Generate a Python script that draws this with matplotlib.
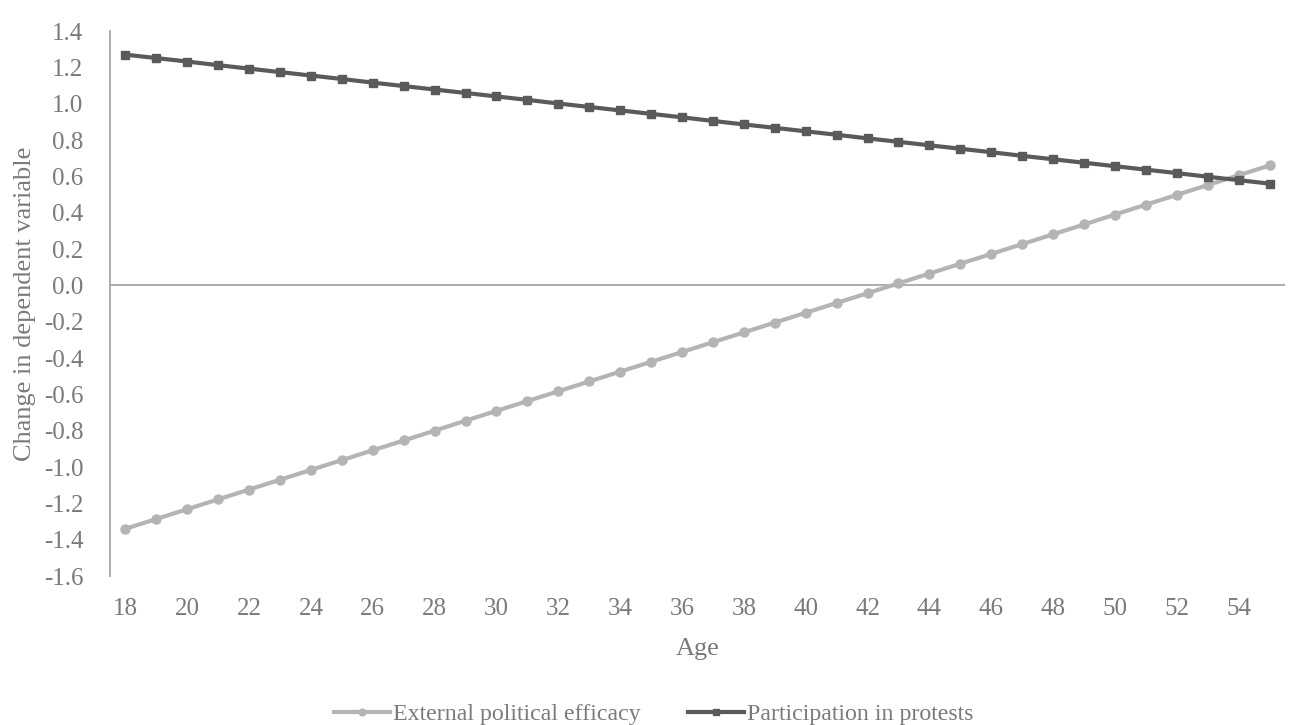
import matplotlib.pyplot as plt

# ages on the category axis
ages = list(range(18, 56))

# External political efficacy
efficacy = [-1.340, -1.286, -1.232, -1.178, -1.124, -1.070, -1.016, -0.962,
            -0.908, -0.854, -0.800, -0.745, -0.691, -0.637, -0.583, -0.529,
            -0.475, -0.421, -0.367, -0.313, -0.259, -0.205, -0.151, -0.097,
            -0.043, 0.011, 0.065, 0.119, 0.173, 0.227, 0.281, 0.335,
            0.390, 0.444, 0.498, 0.552, 0.606, 0.660]

# Participation in protests
protests = [1.270, 1.251, 1.232, 1.212, 1.193, 1.174, 1.155, 1.136,
            1.116, 1.097, 1.078, 1.059, 1.040, 1.021, 1.001, 0.982,
            0.963, 0.944, 0.925, 0.905, 0.886, 0.867, 0.848, 0.829,
            0.809, 0.790, 0.771, 0.752, 0.733, 0.713, 0.694, 0.675,
            0.656, 0.637, 0.618, 0.598, 0.579, 0.560]

yticks = [-1.6, -1.4, -1.2, -1.0, -0.8, -0.6, -0.4, -0.2, 0.0,
          0.2, 0.4, 0.6, 0.8, 1.0, 1.2, 1.4]

plt.rcParams['font.family'] = ['Liberation Serif', 'DejaVu Serif']
txt = '#7a7a7a'
axc = '#a6a6a6'

fig = plt.figure(figsize=(12.92, 7.25), dpi=100)
ax = fig.add_axes([0.0851, 0.2055, 0.9095, 0.7517])

ax.plot(ages, efficacy, '-o', color='#b4b4b4', lw=3, ms=6.5,
        label='External political efficacy', zorder=3)
ax.plot(ages, protests, '-s', color='#5a5a5a', lw=3, ms=6,
        label='Participation in protests', zorder=3)

ax.axhline(0, color=axc, lw=1.3, zorder=1)

ax.set_xlim(17.5, 55.5)
ax.set_ylim(-1.6, 1.4)
ax.set_yticks(yticks)
ax.set_yticklabels([f'{v:.1f}' for v in yticks])
ax.set_xticks(ages[::2])

for s in ['top', 'right', 'bottom']:
    ax.spines[s].set_visible(False)
ax.spines['left'].set_color(axc)
ax.spines['left'].set_linewidth(1.3)
ax.tick_params(length=0, labelsize=18, colors=txt)
ax.tick_params(axis='x', pad=16)
ax.tick_params(axis='y', pad=19)

ax.set_xlabel('Age', fontsize=19, color=txt, labelpad=13)
ax.set_ylabel('Change in dependent variable', fontsize=19, color=txt, labelpad=6)

leg = fig.legend(loc='lower center', bbox_to_anchor=(0.506, -0.03), ncol=2,
                 frameon=False, fontsize=17.2, handlelength=2.35,
                 columnspacing=1.95, handletextpad=0.15, markerscale=0.75)
for t in leg.get_texts():
    t.set_color(txt)

fig.savefig('out.png', dpi=100)
